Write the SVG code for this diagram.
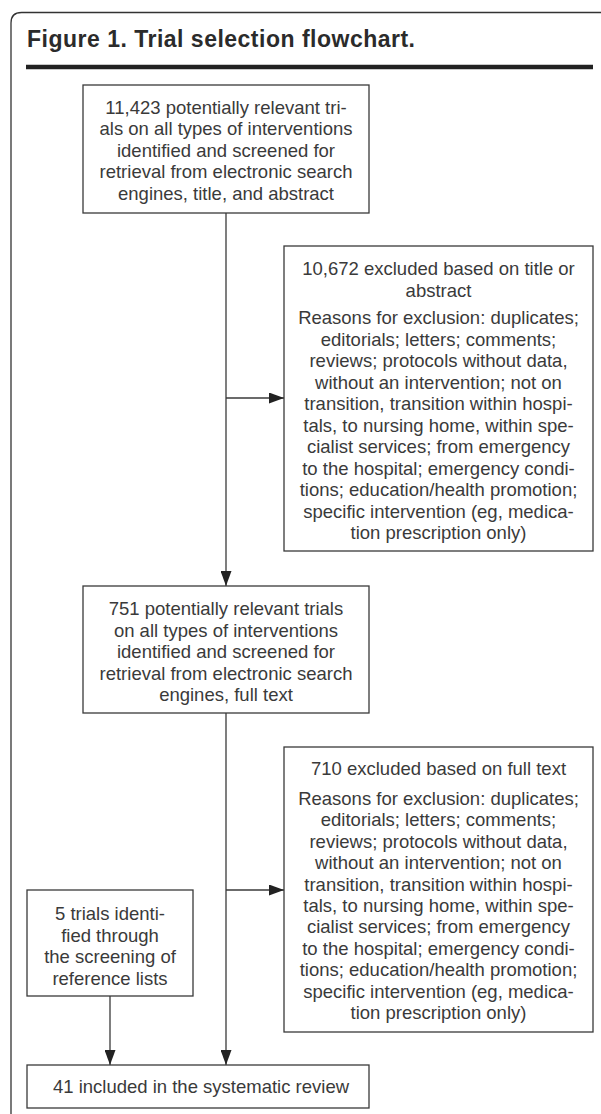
<svg xmlns="http://www.w3.org/2000/svg" width="601" height="1114" viewBox="0 0 601 1114">
<style>
.bg{fill:#ffffff}
.frame{fill:none;stroke:#333333;stroke-width:1.3}
.title{font-family:"Liberation Sans",Arial,sans-serif;font-weight:bold;font-size:23px;fill:#2b2b2b}
.rule{stroke:#222222;stroke-width:4.5}
.box{fill:#ffffff;stroke:#3a3a3a;stroke-width:1.3}
.t{font-family:"Liberation Sans",Arial,sans-serif;font-size:18.5px;fill:#3a3a3a;text-anchor:middle}
.edge{fill:none;stroke:#3a3a3a;stroke-width:1.3}
</style>
<defs>
<marker id="arr" viewBox="0 0 15 11" refX="15" refY="5.5" markerWidth="15" markerHeight="11" markerUnits="userSpaceOnUse" orient="auto">
<path d="M0,0 L15,5.5 L0,11 Z" fill="#222222"/>
</marker>
</defs>
<rect class="bg" x="0" y="0" width="601" height="1114"/>
<path class="frame" d="M11,1114 V23 Q11,12.5 21.5,12.5 H601"/>
<text class="title" x="27" y="47" textLength="388" lengthAdjust="spacing">Figure 1. Trial selection flowchart.</text>
<line class="rule" x1="26" y1="67" x2="593" y2="67"/>

<g id="connectors">
<line class="edge" x1="226" y1="213" x2="226" y2="586" marker-end="url(#arr)"/>
<line class="edge" x1="226" y1="398" x2="284" y2="398" marker-end="url(#arr)"/>
<line class="edge" x1="226" y1="713" x2="226" y2="1065" marker-end="url(#arr)"/>
<line class="edge" x1="226" y1="890" x2="284" y2="890" marker-end="url(#arr)"/>
<line class="edge" x1="110" y1="996" x2="110" y2="1065" marker-end="url(#arr)"/>
</g>

<g id="node-screened-title">
<rect class="box" x="83" y="85" width="286" height="128"/>
<text class="t" x="226" y="113.5">11,423 potentially relevant tri-</text>
<text class="t" x="226" y="135">als on all types of interventions</text>
<text class="t" x="226" y="156.5">identified and screened for</text>
<text class="t" x="226" y="178">retrieval from electronic search</text>
<text class="t" x="226" y="199.5">engines, title, and abstract</text>
</g>

<g id="node-excluded-title">
<rect class="box" x="284" y="246" width="309" height="305"/>
<text class="t" x="438.5" y="275">10,672 excluded based on title or</text>
<text class="t" x="438.5" y="296.5">abstract</text>
<text class="t" x="438.5" y="324">Reasons for exclusion: duplicates;</text>
<text class="t" x="438.5" y="345.5">editorials; letters; comments;</text>
<text class="t" x="438.5" y="367">reviews; protocols without data,</text>
<text class="t" x="438.5" y="388.5">without an intervention; not on</text>
<text class="t" x="438.5" y="410">transition, transition within hospi-</text>
<text class="t" x="438.5" y="431.5">tals, to nursing home, within spe-</text>
<text class="t" x="438.5" y="453">cialist services; from emergency</text>
<text class="t" x="438.5" y="474.5">to the hospital; emergency condi-</text>
<text class="t" x="438.5" y="496">tions; education/health promotion;</text>
<text class="t" x="438.5" y="517.5">specific intervention (eg, medica-</text>
<text class="t" x="438.5" y="539">tion prescription only)</text>
</g>

<g id="node-screened-full">
<rect class="box" x="83" y="586" width="286" height="127"/>
<text class="t" x="226" y="615">751 potentially relevant trials</text>
<text class="t" x="226" y="636.5">on all types of interventions</text>
<text class="t" x="226" y="658">identified and screened for</text>
<text class="t" x="226" y="679.5">retrieval from electronic search</text>
<text class="t" x="226" y="701">engines, full text</text>
</g>

<g id="node-excluded-full">
<rect class="box" x="284" y="747" width="309" height="285"/>
<text class="t" x="438.5" y="775">710 excluded based on full text</text>
<text class="t" x="438.5" y="805">Reasons for exclusion: duplicates;</text>
<text class="t" x="438.5" y="826.4">editorials; letters; comments;</text>
<text class="t" x="438.5" y="847.8">reviews; protocols without data,</text>
<text class="t" x="438.5" y="869.2">without an intervention; not on</text>
<text class="t" x="438.5" y="890.6">transition, transition within hospi-</text>
<text class="t" x="438.5" y="912">tals, to nursing home, within spe-</text>
<text class="t" x="438.5" y="933.4">cialist services; from emergency</text>
<text class="t" x="438.5" y="954.8">to the hospital; emergency condi-</text>
<text class="t" x="438.5" y="976.2">tions; education/health promotion;</text>
<text class="t" x="438.5" y="997.6">specific intervention (eg, medica-</text>
<text class="t" x="438.5" y="1019">tion prescription only)</text>
</g>

<g id="node-reference-lists">
<rect class="box" x="27" y="890" width="166" height="106"/>
<text class="t" x="110" y="920">5 trials identi-</text>
<text class="t" x="110" y="941.5">fied through</text>
<text class="t" x="110" y="963">the screening of</text>
<text class="t" x="110" y="984.5">reference lists</text>
</g>

<g id="node-included">
<rect class="box" x="27" y="1065" width="342" height="43"/>
<text class="t" x="201" y="1093">41 included in the systematic review</text>
</g>
</svg>
